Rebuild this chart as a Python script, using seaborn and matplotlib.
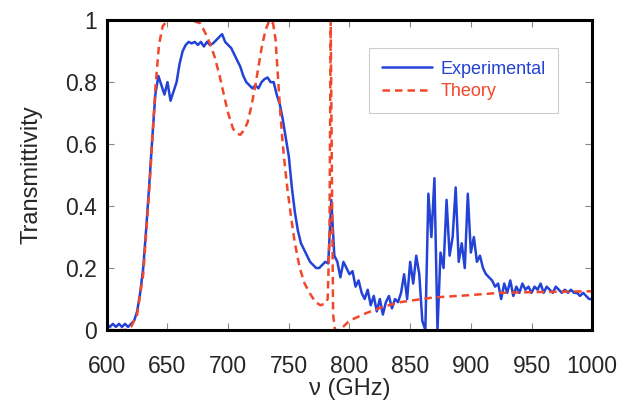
import numpy as np
import pandas as pd
import seaborn as sns
from matplotlib import pyplot as plt

# experimental spectrum, read every 2.5 GHz from 600 to 1000
exp_freq = np.arange(600, 1000.1, 2.5)
exp_trans = [
    0.02, 0.01, 0.02, 0.01, 0.02, 0.01, 0.02, 0.01,
    0.02, 0.03, 0.06, 0.12, 0.20, 0.33, 0.47, 0.62,
    0.76, 0.82, 0.79, 0.76, 0.80, 0.74, 0.77, 0.80,
    0.86, 0.90, 0.92, 0.93, 0.925, 0.93, 0.92, 0.93,
    0.915, 0.93, 0.92, 0.925, 0.935, 0.945, 0.955, 0.93,
    0.92, 0.91, 0.89, 0.87, 0.85, 0.82, 0.80, 0.79,
    0.78, 0.79, 0.78, 0.80, 0.81, 0.815, 0.80, 0.80,
    0.76, 0.73, 0.68, 0.62, 0.56, 0.46, 0.38, 0.32,
    0.28, 0.26, 0.24, 0.22, 0.21, 0.20, 0.20, 0.21,
    0.22, 0.215, 0.42, 0.24, 0.22, 0.17, 0.22, 0.20,
    0.18, 0.19, 0.14, 0.16, 0.12, 0.10, 0.13, 0.08,
    0.11, 0.06, 0.10, 0.05, 0.09, 0.11, 0.07, 0.10,
    0.09, 0.12, 0.18, 0.10, 0.22, 0.15, 0.24, 0.18,
    0.03, 0.00, 0.44, 0.30, 0.49, 0.00, 0.25, 0.20,
    0.42, 0.24, 0.30, 0.46, 0.22, 0.28, 0.20, 0.44,
    0.25, 0.30, 0.22, 0.24, 0.20, 0.18, 0.17, 0.16,
    0.14, 0.15, 0.10, 0.15, 0.12, 0.16, 0.11, 0.14,
    0.12, 0.15, 0.13, 0.14, 0.12, 0.14, 0.13, 0.15,
    0.12, 0.14, 0.13, 0.12, 0.14, 0.13, 0.12, 0.13,
    0.12, 0.13, 0.12, 0.12, 0.11, 0.12, 0.11, 0.10,
    0.10,
]

theory_freq = [600, 615, 620, 625, 630, 635, 640, 643, 646, 650, 660, 670,
               677, 681, 685, 689, 693, 697, 700, 704, 707, 710, 713, 716,
               719, 722, 725, 728, 731, 734, 737, 739, 741, 743, 745, 747,
               749, 752, 755, 759, 763, 767, 772, 776, 780, 782, 783.5, 784.5,
               785.5, 786.5, 788, 792, 800, 814, 828, 842, 869, 897, 924, 960,
               1000]
theory_trans = [0.0, 0.0, 0.01, 0.05, 0.18, 0.45, 0.78, 0.92, 0.98, 1.0, 1.0, 1.0,
                0.99, 0.96, 0.925, 0.88, 0.82, 0.75, 0.70, 0.65, 0.635, 0.63, 0.645, 0.67,
                0.72, 0.78, 0.85, 0.92, 0.97, 1.0, 0.99, 0.94, 0.82, 0.70, 0.60, 0.52,
                0.45, 0.36, 0.28, 0.20, 0.15, 0.12, 0.09, 0.08, 0.085, 0.10, 0.30, 1.0,
                0.50, 0.05, 0.0, 0.0, 0.03, 0.055, 0.075, 0.09, 0.105, 0.112, 0.12, 0.123,
                0.125]

blue = '#2342d6'
red = '#f2472a'

sns.set_style("ticks")
plt.rcParams['font.family'] = ['Liberation Sans', 'DejaVu Sans']

df_exp = pd.DataFrame({'f': exp_freq, 't': exp_trans})
df_th = pd.DataFrame({'f': theory_freq, 't': theory_trans})

fig = plt.figure(figsize=(6.32, 4.12), dpi=100)
ax = fig.add_axes([0.169, 0.199, 0.768, 0.752])

sns.lineplot(data=df_exp, x='f', y='t', ax=ax, color=blue, lw=1.8,
             label='Experimental')
sns.lineplot(data=df_th, x='f', y='t', ax=ax, color=red, lw=1.8,
             linestyle=(0, (3, 2)), label='Theory')

ax.set_xlim(600, 1000)
ax.set_ylim(0, 1)
ax.set_xticks(range(600, 1001, 50))
ax.set_yticks([0, 0.2, 0.4, 0.6, 0.8, 1])
ax.set_yticklabels(['0', '0.2', '0.4', '0.6', '0.8', '1'])
ax.tick_params(direction='in', top=True, right=True, labelsize=16.5,
               length=5, width=0.8, color='#888888')
ax.tick_params(axis='x', pad=18)
ax.tick_params(axis='y', pad=7)
ax.set_xlabel('ν (GHz)', fontsize=17, labelpad=0)
ax.set_ylabel('Transmittivity', fontsize=17, labelpad=16)
for sp in ax.spines.values():
    sp.set_linewidth(2.2)
    sp.set_color('black')

leg = ax.legend(loc='upper left', bbox_to_anchor=(0.54, 0.91), fontsize=13,
                handlelength=2.8, fancybox=False, framealpha=1,
                edgecolor='#cccccc', borderpad=0.7, handletextpad=0.45,
                labelspacing=0.3, borderaxespad=0)
leg.get_frame().set_linewidth(0.8)
for txt, c in zip(leg.get_texts(), [blue, red]):
    txt.set_color(c)

fig.savefig('out.png', dpi=100)
